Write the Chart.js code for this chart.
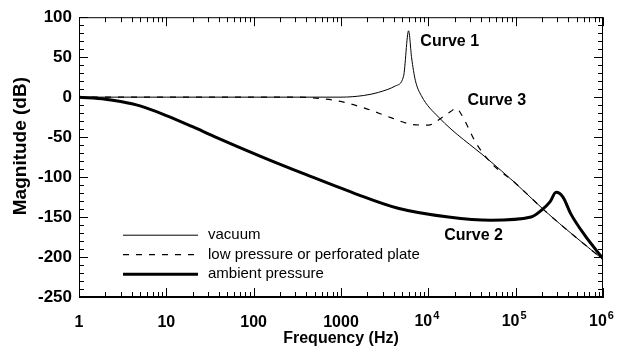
<!DOCTYPE html>
<html>
<head>
<meta charset="utf-8">
<script src="https://cdn.jsdelivr.net/npm/chart.js@4.4.1/dist/chart.umd.min.js"></script>
<style>
  html, body { margin: 0; padding: 0; background: #fff; }
</style>
</head>
<body>
<canvas id="myChart" width="619" height="350"></canvas>
<script>
// curve 1 - vacuum
var vacuumHz = [1, 10, 100, 1000, 1800, 2700, 4200, 5200, 5940, 6440, 7100, 8300, 13100, 48500, 98000, 215000, 473000, 1000000];
var vacuumDb = [0, 0, 0, 0, 2, 6, 14, 26, 83, 49, 21, 2, -25, -78, -107, -142, -174, -203];

// curve 3 - low pressure or perforated plate
var lowHz = [1, 10, 100, 330, 600, 946, 1900, 3800, 6400, 10000, 14100, 18000, 21000, 24000, 35000, 52000, 98000, 215000, 473000, 1000000];
var lowDb = [0, 0, 0, 0, -2, -5, -14, -26, -34, -35, -26, -18, -14, -22, -57, -82, -107, -142, -174, -203];

// curve 2 - ambient pressure
var ambientHz = [1, 2, 3, 5, 10, 20, 35, 120, 400, 1400, 4500, 17000, 52000, 150000, 195000, 247000, 290000, 348000, 428000, 620000, 1000000];
var ambientDb = [0, -2.5, -5.5, -11, -23, -37, -49, -74, -97, -120, -139, -150, -154, -150, -142, -131, -119, -125, -146, -173, -202];

var seriesNames = ["vacuum", "low pressure or perforated plate", "ambient pressure"];

// decade tick labels; the powers get a raised exponent
var xTickValues = [1, 10, 100, 1000, 10000, 100000, 1000000];
var xTickLabels = ["1", "10", "100", "1000", "", "", ""];
var xExpValues = [10000, 100000, 1000000];
var xExpLabels = ["4", "5", "6"];

// text labels placed next to the curves (Hz, dB)
var curveLabels = ["Curve 1", "Curve 2", "Curve 3"];
var curveLabelHz = [8100, 15200, 28000];
var curveLabelDb = [70, -173, -4];

function toPoints(xs, ys) {
  return xs.map(function (v, i) { return { x: v, y: ys[i] }; });
}

var FONT = "'Liberation Sans', Arial, Helvetica, sans-serif";

// frame, inward tick marks, exponent labels, y title, curve names, legend
var frameTicks = {
  id: 'frameTicks',
  afterDraw: function (chart) {
    var ctx = chart.ctx, a = chart.chartArea, x = chart.scales.x, y = chart.scales.y;
    ctx.save();
    ctx.strokeStyle = '#000';
    ctx.lineWidth = 1;
    ctx.strokeRect(a.left + 0.5, a.top + 0.5, a.right - a.left - 1, a.bottom - a.top - 1);
    ctx.beginPath();
    x.ticks.forEach(function (t) {
      var px = Math.round(x.getPixelForValue(t.value)) + 0.5;
      var len = xTickValues.indexOf(t.value) >= 0 ? 9 : 5;
      ctx.moveTo(px, a.bottom); ctx.lineTo(px, a.bottom - len);
      ctx.moveTo(px, a.top); ctx.lineTo(px, a.top + len);
    });
    for (var v = y.min; v <= y.max; v += 10) {
      var py = Math.round(y.getPixelForValue(v)) + 0.5;
      var l = (v % 50 === 0) ? 9 : 5;
      ctx.moveTo(a.left, py); ctx.lineTo(a.left + l, py);
      ctx.moveTo(a.right, py); ctx.lineTo(a.right - l, py);
    }
    ctx.stroke();

    ctx.fillStyle = '#000';
    ctx.textBaseline = 'top';
    ctx.textAlign = 'left';
    xExpValues.forEach(function (val, i) {
      ctx.font = 'bold 16px ' + FONT;
      var w1 = ctx.measureText('10').width;
      ctx.font = 'bold 11px ' + FONT;
      var w2 = ctx.measureText(xExpLabels[i]).width;
      var cx = x.getPixelForValue(val);
      var lx = cx - (w1 + w2) / 2 - 2;
      var ty = a.bottom + 17;
      ctx.font = 'bold 16px ' + FONT;
      ctx.fillText('10', lx, ty);
      ctx.font = 'bold 11px ' + FONT;
      ctx.fillText(xExpLabels[i], lx + w1 + 1, ty - 4);
    });

    // y axis title, sits a little above the middle like the original
    ctx.save();
    ctx.translate(21, (a.top + a.bottom) / 2 - 11);
    ctx.rotate(-Math.PI / 2);
    ctx.textAlign = 'center';
    ctx.textBaseline = 'middle';
    ctx.font = 'bold 19px ' + FONT;
    ctx.fillText('Magnitude (dB)', 0, 0);
    ctx.restore();

    ctx.font = 'bold 16px ' + FONT;
    ctx.textBaseline = 'middle';
    curveLabels.forEach(function (txt, i) {
      ctx.fillText(txt, x.getPixelForValue(curveLabelHz[i]), y.getPixelForValue(curveLabelDb[i]));
    });

    ctx.font = '15px ' + FONT;
    chart.data.datasets.forEach(function (ds, i) {
      var ly = a.top + 218 + i * 19.5;
      ctx.beginPath();
      ctx.lineWidth = ds.borderWidth;
      ctx.setLineDash(ds.borderDash || []);
      ctx.moveTo(a.left + 44, ly);
      ctx.lineTo(a.left + 119, ly);
      ctx.stroke();
      ctx.setLineDash([]);
      ctx.fillText(ds.label, a.left + 129, ly);
    });
    ctx.restore();
  }
};

new Chart("myChart", {
  type: "line",
  data: {
    datasets: [
      { label: seriesNames[0], data: toPoints(vacuumHz, vacuumDb), borderColor: '#000', borderWidth: 1, pointRadius: 0, cubicInterpolationMode: 'monotone' },
      { label: seriesNames[1], data: toPoints(lowHz, lowDb), borderColor: '#000', borderWidth: 1.2, borderDash: [6, 7], pointRadius: 0, cubicInterpolationMode: 'monotone' },
      { label: seriesNames[2], data: toPoints(ambientHz, ambientDb), borderColor: '#000', borderWidth: 3, pointRadius: 0, cubicInterpolationMode: 'monotone' }
    ]
  },
  options: {
    responsive: false,
    animation: false,
    layout: { padding: { left: 0, right: 13, top: 12, bottom: 0 } },
    plugins: { legend: { display: false }, tooltip: { enabled: false } },
    scales: {
      x: {
        type: 'logarithmic',
        min: 1,
        max: 1000000,
        grid: { display: false, drawTicks: false },
        border: { display: true, color: '#000' },
        afterBuildTicks: function (scale) {
          var list = [];
          for (var k = 0; k < 6; k++) {
            for (var m = 1; m < 10; m++) list.push(m * Math.pow(10, k));
          }
          list.push(1000000);
          scale.ticks = list.map(function (v) { return { value: v }; });
        },
        afterFit: function (scale) { scale.height = 53; },
        ticks: {
          autoSkip: false,
          maxRotation: 0,
          padding: 16,
          color: '#000',
          font: { family: FONT, size: 16, weight: 'bold' },
          callback: function (v) {
            var i = xTickValues.indexOf(v);
            return i >= 0 ? xTickLabels[i] : '';
          }
        },
        title: {
          display: true,
          text: 'Frequency (Hz)',
          color: '#000',
          font: { family: FONT, size: 16, weight: 'bold' },
          padding: { top: 0, bottom: 2 }
        }
      },
      y: {
        min: -250,
        max: 100,
        grid: { display: false, drawTicks: false },
        border: { display: true, color: '#000' },
        afterFit: function (scale) { scale.width = 79; },
        ticks: {
          stepSize: 50,
          padding: 7,
          color: '#000',
          font: { family: FONT, size: 17, weight: 'bold' }
        }
      }
    }
  },
  plugins: [frameTicks]
});
</script>
</body>
</html>
